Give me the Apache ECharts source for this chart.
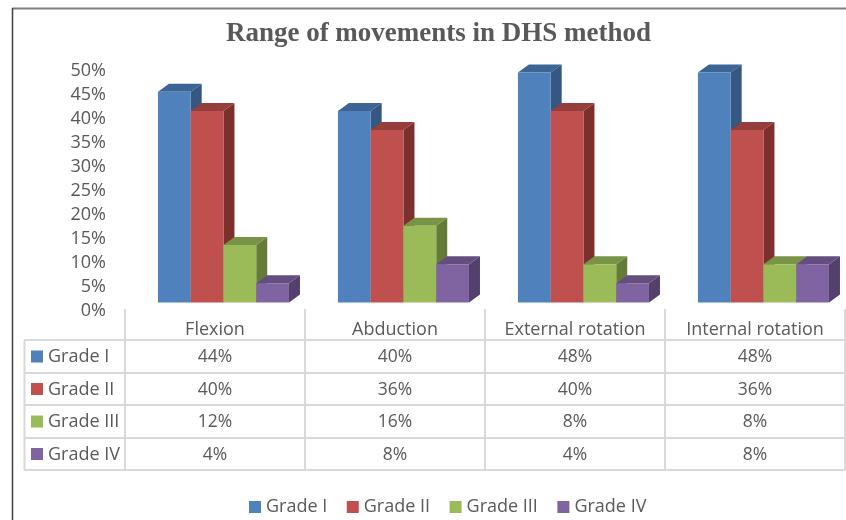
<!DOCTYPE html>
<html>
<head>
<meta charset="utf-8">
<style>
  html, body { margin: 0; background: #fff; }
  #chart { width: 846px; height: 520px; }
</style>
<script src="https://cdn.jsdelivr.net/npm/echarts@6/dist/echarts.min.js"></script>
</head>
<body>
<div id="chart"></div>
<script>
  const categories = ["Flexion", "Abduction", "External rotation", "Internal rotation"];
  const grades = ["Grade I", "Grade II", "Grade III", "Grade IV"];
  const gradeI = [44, 40, 48, 48];
  const gradeII = [40, 36, 40, 36];
  const gradeIII = [12, 16, 8, 8];
  const gradeIV = [4, 8, 4, 8];
  const seriesValues = [gradeI, gradeII, gradeIII, gradeIV];

  const frontColors = ["#4f81bd", "#c0504d", "#9bbb59", "#8064a2"];
  const topColors = ["#3c6494", "#963e3b", "#799446", "#644e80"];
  const sideColors = ["#355781", "#7b302e", "#657c39", "#54406d"];

  const textColor = "#595959";
  const lineColor = "#d9d9d9";
  const font = "Open Sans";
  const depthX = 11;
  const depthY = 8;

  // table layout
  const colX = [125, 305, 485, 665, 845];
  const rowY = [340, 373, 405, 438, 470];

  function renderBar(seriesIndex, api) {
    const catIndex = api.value(0);
    const band = api.size([1, 0])[0];
    const w = band * 0.182;
    const center = api.coord([catIndex, 0]);
    const top = api.coord([catIndex, api.value(1)]);
    const x = center[0] + band * 0.047 + (seriesIndex - 2) * w;
    const y0 = center[1];
    const y1 = top[1];
    return {
      type: "group",
      children: [
        {
          type: "polygon",
          shape: { points: [[x + w, y0], [x + w + depthX, y0 - depthY], [x + w + depthX, y1 - depthY], [x + w, y1]] },
          style: { fill: sideColors[seriesIndex] },
        },
        {
          type: "polygon",
          shape: { points: [[x, y1], [x + depthX, y1 - depthY], [x + w + depthX, y1 - depthY], [x + w, y1]] },
          style: { fill: topColors[seriesIndex] },
        },
        {
          type: "rect",
          shape: { x: x, y: y1, width: w, height: y0 - y1 },
          style: { fill: frontColors[seriesIndex] },
        },
      ],
    };
  }

  function hLine(x1, x2, y, color, width) {
    return { type: "line", shape: { x1, y1: y, x2, y2: y }, style: { stroke: color, lineWidth: width } };
  }
  function vLine(x, y1, y2, color, width) {
    return { type: "line", shape: { x1: x, y1, x2: x, y2 }, style: { stroke: color, lineWidth: width } };
  }

  function tableGraphics() {
    const items = [];
    // outer frame of the picture
    items.push(hLine(12, 846, 8.5, "#7f7f7f", 2));
    items.push(vLine(12.5, 8, 520, "#404040", 1.5));

    rowY.forEach((y) => items.push(hLine(24, 845, y, lineColor, 2)));
    colX.forEach((x) => items.push(vLine(x, 309, 470, lineColor, 2)));
    items.push(vLine(24.5, 340, 470, lineColor, 2));

    grades.forEach((name, r) => {
      const midY = (rowY[r] + rowY[r + 1]) / 2;
      items.push({
        type: "rect",
        shape: { x: 31, y: midY - 6, width: 12, height: 12 },
        style: { fill: frontColors[r] },
      });
      items.push({
        type: "text",
        style: { x: 48, y: midY + 0.5, text: name, fill: textColor, font: `18px "${font}"`, verticalAlign: "middle" },
      });
      seriesValues[r].forEach((v, c) => {
        items.push({
          type: "text",
          style: {
            x: (colX[c] + colX[c + 1]) / 2,
            y: midY + 1,
            text: v + "%",
            fill: textColor,
            font: `17.5px "${font}"`,
            align: "center",
            verticalAlign: "middle",
          },
        });
      });
    });
    return items;
  }

  const chart = echarts.init(document.getElementById("chart"));
  chart.setOption({
    animation: false,
    backgroundColor: "#fff",
    title: {
      text: "Range of movements in DHS method",
      left: 433.5,
      top: 16,
      textAlign: "center",
      textStyle: { fontFamily: "Liberation Serif", fontSize: 27, fontWeight: "bold", color: textColor },
    },
    legend: {
      data: grades,
      left: 244,
      top: 493,
      icon: "rect",
      itemWidth: 12,
      itemHeight: 12,
      itemGap: 19.5,
      textStyle: { fontFamily: font, fontSize: 18, color: textColor },
    },
    grid: { left: 125, right: 1, top: 63, height: 239.5 },
    xAxis: {
      type: "category",
      data: categories,
      axisLine: { show: false },
      axisTick: { show: false },
      axisLabel: { interval: 0, hideOverlap: false, margin: 18, fontFamily: font, fontSize: 18, color: textColor },
    },
    yAxis: {
      type: "value",
      min: 0,
      max: 50,
      interval: 5,
      splitLine: { show: false },
      axisLine: { show: false },
      axisTick: { show: false },
      axisLabel: {
        formatter: "{value}%",
        margin: 19,
        fontFamily: font,
        fontSize: 18,
        color: textColor,
        verticalAlign: "top",
        padding: [-1, 0, 0, 0],
      },
    },
    graphic: tableGraphics(),
    series: grades.map((name, s) => ({
      name: name,
      type: "custom",
      itemStyle: { color: frontColors[s] },
      encode: { x: 0, y: 1 },
      data: seriesValues[s].map((v, c) => [c, v]),
      renderItem: (params, api) => renderBar(s, api),
    })),
  });
</script>
</body>
</html>
